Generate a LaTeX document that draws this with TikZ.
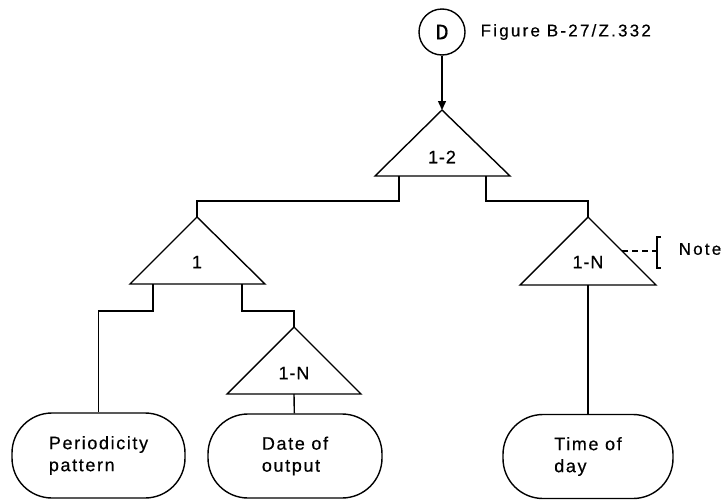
\documentclass[tikz,border=0pt]{standalone}
\usepackage{fontspec}
\setmainfont{Liberation Sans}
\newfontfamily\monoD{Liberation Mono}
\usetikzlibrary{arrows.meta}
\begin{document}
\begin{tikzpicture}[x=1pt,y=-1pt,line width=1.4pt,
  tri/.style={draw,line join=miter},
  trilbl/.style={inner sep=0,font=\fontsize{18}{20}\selectfont\addfontfeatures{LetterSpace=5,FakeBold=0.6}},
  boxtxt/.style={draw,rounded corners=40pt,inner sep=0,align=left,
     font=\fontsize{18}{22}\selectfont\addfontfeatures{LetterSpace=9,FakeBold=0.5}},
  captxt/.style={inner sep=0,anchor=west,font=\fontsize{17}{19}\selectfont\addfontfeatures{LetterSpace=13,FakeBold=0.5}}
]
\useasboundingbox (0,0) rectangle (725,501);

% circle D and caption
\node (D) [circle,draw,minimum size=46pt,inner sep=0,font=\monoD\fontsize{22}{22}\selectfont\addfontfeatures{FakeBold=0.5}] at (442,32) {D};
\node (cap) [captxt] at (480,32) {Figure B-27/Z.332};

% triangle 1-2
\coordinate (A0) at (442,110);
\coordinate (A0l) at (399,176);
\coordinate (A0r) at (486,176);
\draw[tri] (A0) -- (375,176) -- (510,176) -- cycle;
\node (L0) [trilbl] at (442,157) {1-2};

% triangle 1
\coordinate (A1) at (197,217);
\coordinate (A1l) at (153,284);
\coordinate (A1r) at (242,284);
\draw[tri] (A1) -- (130,284) -- (265,284) -- cycle;
\node (L1) [trilbl] at (197,262) {1};

% triangle 1-N right
\coordinate (A2) at (588,217);
\coordinate (A2b) at (588,285);
\draw[tri] (A2) -- (520,285) -- (656,285) -- cycle;
\node (L2) [trilbl] at (588,262) {1-N};

% triangle 1-N lower
\coordinate (A3) at (294,327);
\coordinate (A3b) at (294,394);
\draw[tri] (A3) -- (227,394) -- (361,394) -- cycle;
\node (L3) [trilbl] at (294,373) {1-N};

% boxes
\node (P) [boxtxt,minimum width=173pt,minimum height=85pt] at (98.5,455.5) {Periodicity\\pattern};
\node (Q) [boxtxt,minimum width=174pt,minimum height=84pt] at (295,456) {Date of\\output};
\node (T) [boxtxt,minimum width=170pt,minimum height=84pt] at (588,456.5) {Time of\\day};

% connectors
\draw[-{Triangle[length=9pt,width=8pt]}] (D) -- (A0);
\draw (A0l) -- ++(0,25) -| (A1);
\draw (A0r) -- ++(0,25) -| (A2);
\draw (A1l) -- ++(0,27) -| (P);
\draw (A1r) -- ++(0,27) -| (A3);
\draw (A3b) -- (Q);
\draw (A2b) -- (T);

% note
\coordinate (n1) at (622,251);
\coordinate (nb) at (657,251);
\draw[dash pattern=on 6pt off 4pt] (n1) -- (nb);
\draw[line width=2pt] (661,237) -- (657,237) -- (657,268) -- (661,268);
\node (note) [captxt] at (678,249) {Note};
\end{tikzpicture}
\end{document}
